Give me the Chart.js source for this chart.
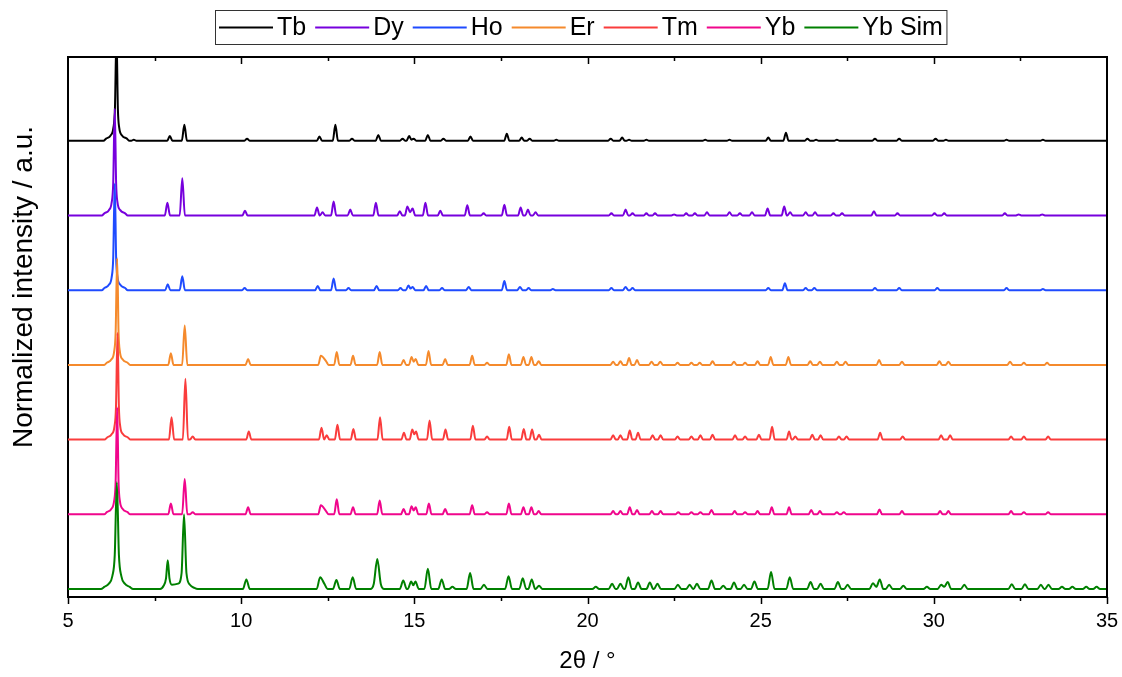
<!DOCTYPE html>
<html>
<head>
<meta charset="utf-8">
<script src="https://cdn.jsdelivr.net/npm/chart.js@4.4.0/dist/chart.umd.min.js"></script>
<style>
    html, body { margin: 0; padding: 0; background: #ffffff; }
    #wrap { width: 1122px; height: 677px; }
</style>
</head>
<body>
<div id="wrap"><canvas id="xrdChart"></canvas></div>
<script>
// Series names, colours and vertical offsets (stacked patterns)
const seriesNames = ['Tb', 'Dy', 'Ho', 'Er', 'Tm', 'Yb', 'Yb Sim'];
const seriesColors = ['#000000', '#7700dd', '#1f4bff', '#f58a2c', '#fa3c3c', '#f0068c', '#008000'];
const offsets = [4.2, 3.5, 2.8, 2.1, 1.4, 0.7, 0];
const xTickLabels = [5, 10, 15, 20, 25, 30, 35];

// Peaks: [2theta, normalized intensity]
const tb = [
    [6.10, 0.02], [6.23, 0.05], [6.31, 0.12], [6.355, 0.3], [6.40, 1.0], [6.44, 0.3], [6.48, 0.12], [6.56, 0.05], [6.70, 0.02],
    [6.9, 0.01], [7.94, 0.045], [8.36, 0.15], [10.17, 0.02], [12.26, 0.04], [12.72, 0.15], [13.2, 0.02], [13.96, 0.055],
    [14.66, 0.02], [14.85, 0.045], [14.915, 0.01], [14.98, 0.02], [15.39, 0.055], [15.84, 0.02], [16.62, 0.04], [17.67, 0.065],
    [18.1, 0.03], [18.33, 0.02], [19.1, 0.01], [20.67, 0.02], [21.0, 0.03], [21.2, 0.01], [21.7, 0.01], [23.4, 0.01],
    [24.1, 0.01], [25.22, 0.03], [25.73, 0.075], [26.35, 0.02], [26.6, 0.01], [27.2, 0.01], [28.3, 0.02], [29.0, 0.02],
    [30.05, 0.02], [30.35, 0.01], [32.1, 0.01], [33.15, 0.01]
];
const dy = [
    [6.05, 0.02], [6.18, 0.05], [6.26, 0.12], [6.305, 0.3], [6.35, 1.0], [6.39, 0.3], [6.43, 0.12], [6.51, 0.05], [6.65, 0.02],
    [7.87, 0.12], [8.30, 0.35], [10.11, 0.045], [12.19, 0.075], [12.35, 0.03], [12.67, 0.13], [13.15, 0.055], [13.89, 0.12],
    [14.58, 0.04], [14.80, 0.085], [14.875, 0.03], [14.95, 0.065], [15.32, 0.12], [15.75, 0.045], [16.53, 0.095], [17.0, 0.02],
    [17.60, 0.10], [18.07, 0.075], [18.28, 0.055], [18.50, 0.03], [20.69, 0.02], [21.10, 0.055], [21.30, 0.02],
    [21.7, 0.02], [21.95, 0.02], [22.5, 0.01], [22.85, 0.02], [23.1, 0.02], [23.45, 0.03], [24.1, 0.03], [24.4, 0.02],
    [24.75, 0.03], [25.20, 0.065], [25.68, 0.085], [25.85, 0.03], [26.3, 0.03], [26.57, 0.03], [27.1, 0.02], [27.35, 0.02],
    [28.27, 0.04], [28.95, 0.02], [30.02, 0.02], [30.3, 0.02], [32.05, 0.02], [32.45, 0.01], [33.13, 0.01]
];
const ho = [
    [6.05, 0.02], [6.18, 0.05], [6.26, 0.12], [6.305, 0.3], [6.35, 1.0], [6.39, 0.3], [6.43, 0.12], [6.51, 0.05], [6.65, 0.02],
    [7.88, 0.055], [8.30, 0.13], [10.10, 0.02], [12.21, 0.04], [12.67, 0.11], [13.10, 0.02], [13.91, 0.04], [14.60, 0.02],
    [14.83, 0.045], [14.89, 0.015], [14.95, 0.03], [15.34, 0.04], [15.80, 0.02], [16.57, 0.03], [17.60, 0.085], [18.05, 0.03],
    [18.30, 0.02], [19.0, 0.01], [20.69, 0.02], [21.10, 0.03], [21.30, 0.02], [25.22, 0.02], [25.70, 0.065],
    [26.30, 0.02], [26.55, 0.02], [28.30, 0.02], [29.0, 0.02], [30.1, 0.02], [32.1, 0.02], [33.15, 0.01]
];
const er = [
    [6.12, 0.02], [6.25, 0.05], [6.33, 0.12], [6.375, 0.3], [6.42, 1.0], [6.46, 0.3], [6.50, 0.12], [6.58, 0.05], [6.72, 0.02],
    [7.97, 0.11], [8.37, 0.37], [10.20, 0.055], [12.30, 0.085], [12.45, 0.035], [12.76, 0.12], [13.23, 0.085], [14.00, 0.12],
    [14.69, 0.045], [14.92, 0.075], [14.98, 0.03], [15.04, 0.055], [15.41, 0.13], [15.89, 0.055], [16.67, 0.085], [17.10, 0.02],
    [17.73, 0.10], [18.15, 0.075], [18.38, 0.075], [18.59, 0.035], [20.74, 0.03], [20.95, 0.035], [21.20, 0.065],
    [21.43, 0.045], [21.85, 0.03], [22.10, 0.03], [22.6, 0.02], [23.0, 0.02], [23.24, 0.02], [23.61, 0.035], [24.23, 0.03],
    [24.55, 0.02], [24.91, 0.035], [25.29, 0.075], [25.80, 0.075], [26.43, 0.035], [26.71, 0.03], [27.2, 0.03],
    [27.45, 0.03], [28.42, 0.045], [29.08, 0.03], [30.16, 0.035], [30.42, 0.03], [32.2, 0.03], [32.6, 0.02], [33.27, 0.02]
];
const tm = [
    [6.13, 0.02], [6.26, 0.05], [6.34, 0.12], [6.385, 0.3], [6.43, 1.0], [6.47, 0.3], [6.51, 0.12], [6.59, 0.05], [6.73, 0.02],
    [7.99, 0.21], [8.39, 0.57], [8.60, 0.03], [10.22, 0.075], [12.32, 0.11], [12.47, 0.04], [12.78, 0.14], [13.24, 0.10],
    [14.01, 0.21], [14.70, 0.065], [14.94, 0.095], [15.0, 0.05], [15.05, 0.075], [15.44, 0.18], [15.90, 0.095], [16.69, 0.13],
    [17.10, 0.03], [17.74, 0.12], [18.16, 0.10], [18.40, 0.095], [18.60, 0.045], [20.74, 0.04], [20.95, 0.04],
    [21.22, 0.085], [21.46, 0.065], [21.88, 0.04], [22.11, 0.04], [22.6, 0.03], [23.0, 0.03], [23.26, 0.04], [23.61, 0.045],
    [24.26, 0.04], [24.55, 0.03], [24.95, 0.045], [25.33, 0.12], [25.82, 0.075], [26.0, 0.03], [26.49, 0.045],
    [26.73, 0.04], [27.26, 0.03], [27.48, 0.03], [28.45, 0.065], [29.1, 0.03], [30.21, 0.04], [30.47, 0.04],
    [32.23, 0.03], [32.6, 0.03], [33.3, 0.03]
];
const yb = [
    [6.12, 0.02], [6.25, 0.05], [6.33, 0.12], [6.375, 0.3], [6.42, 1.0], [6.46, 0.3], [6.50, 0.12], [6.58, 0.05], [6.72, 0.02],
    [7.97, 0.10], [8.37, 0.33], [8.60, 0.02], [10.20, 0.065], [12.30, 0.085], [12.45, 0.03], [12.76, 0.14], [13.23, 0.065],
    [14.00, 0.13], [14.69, 0.05], [14.92, 0.075], [14.98, 0.035], [15.04, 0.065], [15.42, 0.10], [15.89, 0.05], [16.67, 0.085],
    [17.10, 0.02], [17.73, 0.10], [18.15, 0.065], [18.38, 0.065], [18.59, 0.03], [20.74, 0.03], [20.95, 0.03],
    [21.22, 0.065], [21.43, 0.04], [21.86, 0.03], [22.11, 0.03], [22.62, 0.02], [23.0, 0.02], [23.26, 0.02], [23.58, 0.04],
    [24.25, 0.03], [24.55, 0.02], [24.91, 0.03], [25.32, 0.065], [25.82, 0.065], [26.46, 0.04], [26.71, 0.03],
    [27.2, 0.02], [27.4, 0.02], [28.43, 0.045], [29.08, 0.03], [30.18, 0.03], [30.42, 0.03], [32.23, 0.03],
    [32.6, 0.02], [33.3, 0.02]
];
const ybSim = [
    [6.05, 0.02], [6.18, 0.05], [6.28, 0.12], [6.35, 0.32], [6.41, 1.0], [6.47, 0.32], [6.54, 0.12], [6.64, 0.05], [6.78, 0.02],
    [7.76, 0.03], [7.83, 0.10], [7.88, 0.27], [7.93, 0.10], [8.00, 0.04], [8.18, 0.05], [8.28, 0.15], [8.35, 0.70],
    [8.42, 0.15], [8.52, 0.04], [8.65, 0.01], [10.15, 0.09], [12.28, 0.11], [12.40, 0.05], [12.75, 0.085], [13.22, 0.11],
    [13.83, 0.05], [13.93, 0.28], [14.03, 0.05], [14.68, 0.08], [14.91, 0.07], [14.97, 0.035], [15.03, 0.07], [15.39, 0.19],
    [15.79, 0.09], [16.10, 0.02], [16.61, 0.15], [17.01, 0.04], [17.72, 0.12], [18.13, 0.10], [18.39, 0.09], [18.60, 0.03],
    [20.24, 0.02], [20.71, 0.05], [20.95, 0.05], [21.18, 0.11], [21.46, 0.06], [21.80, 0.06], [22.02, 0.05], [22.61, 0.04],
    [22.95, 0.04], [23.16, 0.05], [23.58, 0.08], [23.92, 0.03], [24.23, 0.06], [24.52, 0.04], [24.82, 0.07], [25.30, 0.16],
    [25.84, 0.11], [26.44, 0.065], [26.73, 0.05], [27.23, 0.065], [27.51, 0.04], [28.24, 0.055], [28.34, 0.02], [28.44, 0.09],
    [28.71, 0.04], [29.12, 0.03], [29.80, 0.02], [30.21, 0.04], [30.30, 0.02], [30.40, 0.065], [30.88, 0.04], [32.25, 0.045],
    [32.63, 0.045], [33.09, 0.04], [33.31, 0.04], [33.7, 0.02], [34.0, 0.02], [34.4, 0.02], [34.7, 0.02]
];
const patterns = [tb, dy, ho, er, tm, yb, ybSim];

// half width of a peak foot (deg 2theta); the simulated pattern is broader
const peakFoot = [0.075, 0.075, 0.075, 0.075, 0.075, 0.075, 0.1];

// turn a peak list into a polyline sitting on its own baseline
function toLine(points, offset, foot) {
    const out = [{ x: 5, y: offset }];
    let prevX = 5;
    points.forEach(([x, y]) => {
        if (x - prevX > 2 * foot) {
            if (prevX > 5) out.push({ x: prevX + foot, y: offset });
            out.push({ x: x - foot, y: offset });
        }
        out.push({ x: x, y: offset + y });
        prevX = x;
    });
    out.push({ x: prevX + foot, y: offset }, { x: 35, y: offset });
    return out;
}

const FONT = '"Liberation Sans", Arial, sans-serif';

// Frame, Origin-style ticks, legend box and axis titles
const decorPlugin = {
    id: 'decor',
    afterDraw(chart) {
        const ctx = chart.ctx;
        const area = chart.chartArea;
        const xs = chart.scales.x;
        ctx.save();
        ctx.strokeStyle = '#000';
        ctx.lineWidth = 2;
        ctx.beginPath();
        ctx.moveTo(area.left, area.top);
        ctx.lineTo(area.right, area.top);
        ctx.lineTo(area.right, area.bottom);
        ctx.stroke();

        ctx.lineWidth = 1.5;
        for (let v = 5; v <= 35; v += 2.5) {
            const px = Math.round(xs.getPixelForValue(v)) + 0.5;
            const len = v % 5 === 0 ? 7 : 4;
            ctx.beginPath();
            ctx.moveTo(px, area.bottom);
            ctx.lineTo(px, area.bottom + len);
            if (v > 5 && v < 35) {
                ctx.moveTo(px, area.top);
                ctx.lineTo(px, area.top + len);
            }
            ctx.stroke();
        }

        // legend
        ctx.font = '25px ' + FONT;
        ctx.textBaseline = 'middle';
        ctx.textAlign = 'left';
        let x = 219;
        const ly = 27.5;
        chart.data.datasets.forEach((ds) => {
            ctx.strokeStyle = ds.borderColor;
            ctx.lineWidth = 2;
            ctx.beginPath();
            ctx.moveTo(x, ly);
            ctx.lineTo(x + 54, ly);
            ctx.stroke();
            ctx.fillStyle = '#000';
            ctx.fillText(ds.label, x + 58, ly + 1);
            x += 58 + ctx.measureText(ds.label).width + 9;
        });
        ctx.strokeStyle = '#333';
        ctx.lineWidth = 1;
        ctx.strokeRect(215.5, 10.5, x - 9 + 4 - 215.5, 34);

        // axis titles
        ctx.fillStyle = '#000';
        ctx.font = '24px ' + FONT;
        ctx.textAlign = 'center';
        ctx.fillText('2θ / °', (area.left + area.right) / 2, 661);
        ctx.font = '28px ' + FONT;
        ctx.translate(24, 287);
        ctx.rotate(-Math.PI / 2);
        ctx.fillText('Normalized intensity / a.u.', 0, 0);
        ctx.restore();
    }
};

new Chart(document.getElementById('xrdChart'), {
    type: 'line',
    data: {
        datasets: seriesNames.map((name, i) => ({
            label: name,
            data: toLine(patterns[i], offsets[i], peakFoot[i]),
            borderColor: seriesColors[i],
            borderWidth: 2,
            pointRadius: 0,
            cubicInterpolationMode: 'monotone',
            fill: false,
            order: seriesNames.length - 1 - i // later patterns drawn on top
        }))
    },
    options: {
        responsive: true,
        maintainAspectRatio: false,
        animation: false,
        parsing: false,
        layout: { padding: { top: 57, right: 15, bottom: 0, left: 0 } },
        scales: {
            x: {
                type: 'linear',
                min: 5,
                max: 35,
                afterFit: (s) => { s.height = 80; s.paddingLeft = 0; s.paddingRight = 0; },
                grid: { display: false, drawTicks: false },
                border: { display: true, color: '#000', width: 2 },
                ticks: {
                    stepSize: 5,
                    padding: 12,
                    color: '#000',
                    font: { size: 20, family: FONT },
                    callback: (v) => xTickLabels.includes(v) ? String(v) : ''
                }
            },
            y: {
                type: 'linear',
                min: -0.075,
                max: 4.985,
                afterFit: (s) => { s.width = 68; },
                grid: { display: false, drawTicks: false },
                border: { display: true, color: '#000', width: 2 },
                ticks: { display: false }
            }
        },
        plugins: {
            legend: { display: false },
            tooltip: { enabled: false }
        }
    },
    plugins: [decorPlugin]
});
</script>
</body>
</html>
